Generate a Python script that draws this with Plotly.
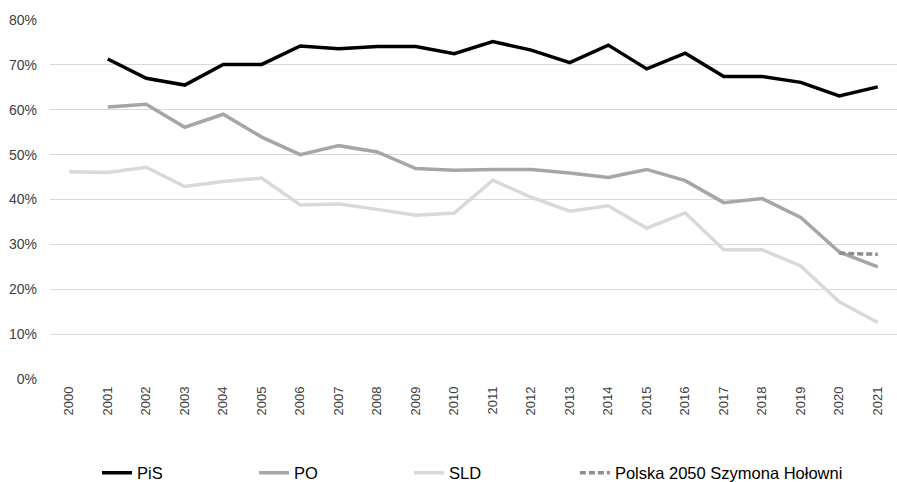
import plotly.graph_objects as go

years = [str(y) for y in range(2000, 2022)]
pis = [None, 71.3, 67.0, 65.5, 70.1, 70.1, 74.2, 73.6, 74.1, 74.1, 72.5, 75.2, 73.3, 70.5, 74.4, 69.1, 72.6, 67.4, 67.4, 66.1, 63.1, 65.1]
po = [None, 60.6, 61.2, 56.1, 59.0, 53.9, 50.0, 52.0, 50.6, 46.9, 46.5, 46.7, 46.7, 45.9, 44.9, 46.7, 44.2, 39.3, 40.2, 36.0, 28.3, 25.0]
sld = [46.2, 46.0, 47.2, 42.9, 44.0, 44.8, 38.8, 39.0, 37.8, 36.5, 37.0, 44.3, 40.5, 37.4, 38.6, 33.6, 37.0, 28.8, 28.8, 25.2, 17.2, 12.6]
pl2050 = [None] * 20 + [28.0, 27.8]

names = ["PiS", "PO", "SLD", "Polska 2050 Szymona Hołowni"]
colors = ["#000000", "#a6a6a6", "#d9d9d9", "#8c8c8c"]
dashes = ["solid", "solid", "solid", "6px,3px"]
series = [pis, po, sld, pl2050]
legend_ids = ["legend", "legend2", "legend3", "legend4"]
legend_x = [0.0555, 0.2409, 0.4239, 0.6197]

fig = go.Figure()
for n, s, c, d, lg in zip(names, series, colors, dashes, legend_ids):
    fig.add_trace(go.Scatter(
        x=years, y=[None if v is None else v / 100 for v in s], name=n, mode="lines",
        line=dict(color=c, width=3.5, dash=d), connectgaps=False, legend=lg))

legend_common = dict(orientation="h", xanchor="left", y=-0.262, yanchor="middle",
                     bgcolor="rgba(0,0,0,0)", font=dict(size=16.5, color="#000000"))
layout_legends = {}
for lg, lx in zip(legend_ids, legend_x):
    layout_legends[lg] = dict(legend_common, x=lx)

fig.update_layout(
    width=897, height=482,
    margin=dict(l=50, r=0, t=20, b=103, autoexpand=False),
    paper_bgcolor="white", plot_bgcolor="white",
    font=dict(family="Liberation Sans, Arial, sans-serif", size=13, color="#404040"),
    showlegend=True,
    xaxis=dict(type="category", range=[-0.5, 21.5], tickangle=-90, showgrid=False,
               showline=False, zeroline=False, ticks="", ticklabelstandoff=4,
               tickfont=dict(size=13, color="#404040")),
    yaxis=dict(range=[0, 0.8], dtick=0.1, tickformat=".0%", showgrid=True, gridcolor="#d9d9d9",
               gridwidth=1, zeroline=False, showline=False, ticks="", ticklabelstandoff=12,
               tickfont=dict(size=14, color="#404040")),
    **layout_legends,
)
fig.write_html("out.html", config={"displayModeBar": False},
               post_script="document.body.style.margin='0';document.body.style.overflow='hidden';")
